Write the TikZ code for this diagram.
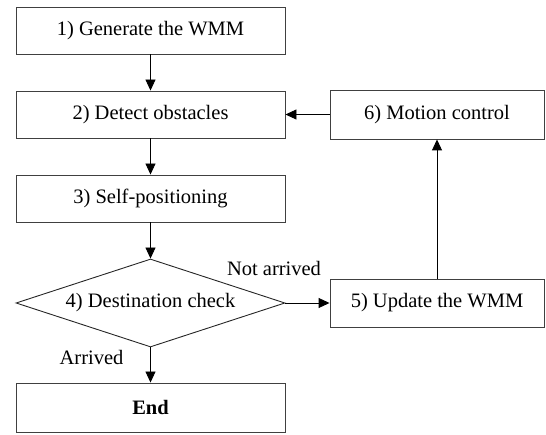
\documentclass[tikz,border=0pt]{standalone}
\usepackage{fontspec}
\setmainfont{Liberation Serif}
\usetikzlibrary{shapes.geometric,arrows.meta}
\begin{document}
\begin{tikzpicture}[x=1pt,y=1pt,
  every node/.style={font=\fontsize{20.5}{24}\selectfont},
  stepbox/.style={draw=black!75, line width=0.9pt, minimum width=269pt, minimum height=47pt, inner sep=0pt},
  sidebox/.style={draw=black!75, line width=0.9pt, minimum width=214pt, minimum height=48pt, inner sep=0pt},
  checkbox/.style={draw=black!85, line width=0.9pt, diamond, aspect=3.06, minimum width=269pt, minimum height=88pt, inner sep=0pt},
  flow/.style={draw=black, line width=0.9pt, -{Triangle[length=11pt,width=10pt]}},
  lbl/.style={inner sep=0pt, anchor=base}]
\useasboundingbox (0,0) rectangle (546,-435);
\node[stepbox] (s1) at (150.5,-30.5) {1) Generate the WMM};
\node[stepbox] (s2) at (150.5,-114.5) {2) Detect obstacles};
\node[stepbox] (s3) at (150.5,-198.5) {3) Self-positioning};
\node[checkbox] (s4) at (150.5,-303) {4) Destination check};
\node[stepbox, minimum height=49pt] (end) at (150.5,-407.5) {\bfseries End};
\node[sidebox] (s5) at (437,-303) {5) Update the WMM};
\node[sidebox, minimum height=49pt] (s6) at (437,-114.5) {6) Motion control};
\draw[flow] (s1) -- (s2);
\draw[flow] (s2) -- (s3);
\draw[flow] (s3) -- (s4);
\draw[flow] (s4) -- (end);
\draw[flow] (s4) -- (s5);
\draw[flow] (s5) -- (s6);
\draw[flow] (s6) -- (s2);
\node[lbl] (na) at (274,-276) {Not arrived};
\node[lbl] (ar) at (91.5,-364) {Arrived};
\end{tikzpicture}
\end{document}
